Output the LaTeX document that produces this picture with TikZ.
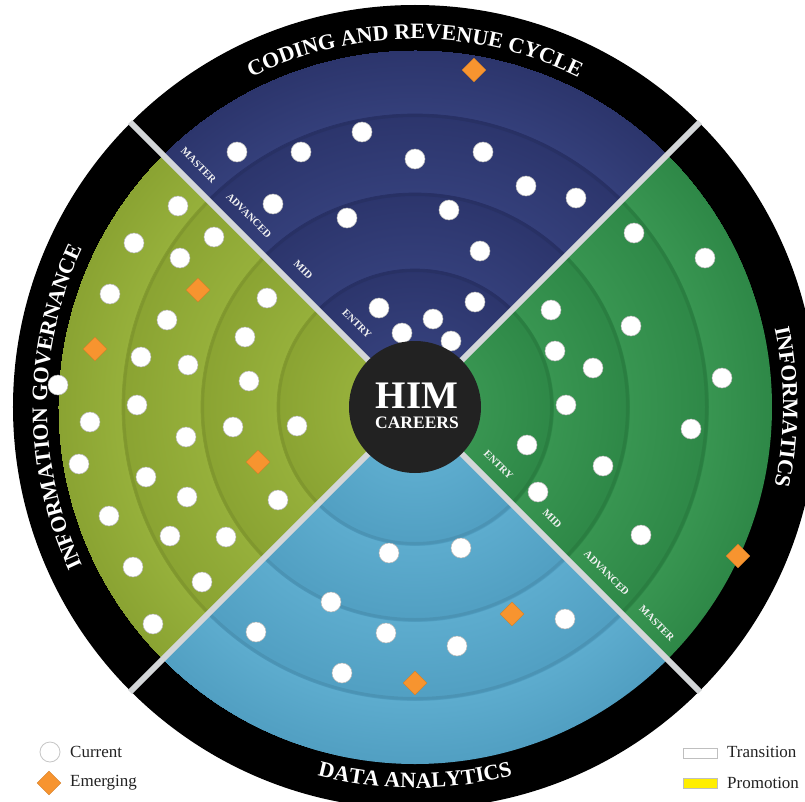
\documentclass[tikz,border=0pt]{standalone}
\usepackage{fontspec}
\setmainfont{Liberation Serif}
\usetikzlibrary{shapes.geometric,decorations.text,calc}

\definecolor{blueL}{HTML}{343F7A}
\definecolor{blueD}{HTML}{2C356C}
\definecolor{blueE}{HTML}{283065}
\definecolor{greenL}{HTML}{389551}
\definecolor{greenD}{HTML}{2E8847}
\definecolor{greenE}{HTML}{2A8042}
\definecolor{oliveL}{HTML}{96B03B}
\definecolor{oliveD}{HTML}{8AA332}
\definecolor{oliveE}{HTML}{839B2F}
\definecolor{cyanL}{HTML}{5DACCE}
\definecolor{cyanD}{HTML}{519FC2}
\definecolor{cyanE}{HTML}{4C96B8}
\definecolor{hub}{HTML}{222222}
\definecolor{divgray}{HTML}{D3D6D8}
\definecolor{emerg}{HTML}{F7942F}
\definecolor{promo}{HTML}{FFEE00}
\definecolor{legtext}{HTML}{222222}

\newcommand\mkringshade[3]{%
  \pgfdeclareradialshading{#1}{\pgfpoint{0pt}{0pt}}{color(0pt)=(#2); color(65pt)=(#2); color(138pt)=(#3); color(138.6pt)=(#2); color(214pt)=(#3); color(214.6pt)=(#2); color(293pt)=(#3); color(293.6pt)=(#2); color(357pt)=(#3)}}
\mkringshade{blueshade}{blueL}{blueD}
\mkringshade{greenshade}{greenL}{greenD}
\mkringshade{oliveshade}{oliveL}{oliveD}
\mkringshade{cyanshade}{cyanL}{cyanD}

\newcommand\hsector[3]{%
  \begin{scope}
    \clip (0,0) -- (#1:357) arc[start angle=#1, end angle={#1+90}, radius=357] -- cycle;
    \pgftext{\pgfuseshading{#2}}
    \foreach \r in {138,214,293} {
      \draw[black, opacity=0.07, line width=3pt] (0,0) circle[radius=\r-1.5];
      \draw[#3, line width=0.7pt] (0,0) circle[radius=\r];
    }
  \end{scope}}

\newcommand\ringfont{\fontsize{22}{22}\selectfont\bfseries}

\begin{document}
\begin{tikzpicture}[x=1pt,y=1pt,
  dot/.style={circle, fill=white, draw=gray!55, line width=0.5pt, minimum size=20pt, inner sep=0pt},
  emergdot/.style={diamond, fill=emerg, draw=emerg!85!black, line width=0.3pt, minimum width=24pt, minimum height=24pt, inner sep=0pt},
  lvl/.style={font=\fontsize{10.5}{11}\selectfont\bfseries, text=white!90!gray, rotate=-45, inner sep=0pt},
  divider/.style={draw=divgray, line width=6pt},
  legtxt/.style={font=\fontsize{17}{17}\selectfont, text=legtext, anchor=west, inner sep=0pt},
  ringtext/.style={decorate, decoration={text along path, text align=center, text color=white, text={|\ringfont|#1}}}]

\fill[white] (-415,-394) rectangle (390,407);
\useasboundingbox (-415,-394) rectangle (390,407);
\clip (-415,-394) rectangle (390,407);

% outer black ring
\fill[black] (0,0) circle[radius=402];

% sectors
\hsector{45}{blueshade}{blueE}
\hsector{135}{oliveshade}{oliveE}
\hsector{225}{cyanshade}{cyanE}
\hsector{-45}{greenshade}{greenE}

% dividers
\foreach \a in {45,135,225,315} \draw[divider] (\a:60) -- (\a:403);

% level labels
\foreach \t/\d in {ENTRY/100, MID/176, ADVANCED/253, MASTER/324} {
  \node[lvl] (tl-\t) at ($(135:\d)+(45:18)$) {\t};
  \node[lvl] (br-\t) at ($(-45:\d)+(45:18)$) {\t};
}

% ring titles
\path[ringtext={CODING AND REVENUE CYCLE}] (160:368) arc[start angle=160, end angle=20, radius=368];
\path[ringtext={INFORMATICS}] (40:368) arc[start angle=40, end angle=-40, radius=368];
\path[ringtext={INFORMATION GOVERNANCE}] (230:368) arc[start angle=230, end angle=130, radius=368];
\path[ringtext={DATA ANALYTICS}] (220:381) arc[start angle=220, end angle=320, radius=381];

% dots in pixel coordinates
\begin{scope}[shift={(-415pt,407pt)}, y=-1pt]
  % coding and revenue cycle
  \foreach \x/\y [count=\i] in {237/152, 301/152, 362/132, 415/159, 483/152, 526/186, 576/198, 273/204, 347/218, 449/210, 480/251, 379/308, 475/302, 433/319, 402/333, 451/341}
    \node[dot] (b\i) at (\x,\y) {};
  \node[emergdot] (be1) at (474,70) {};
  % informatics
  \foreach \x/\y [count=\i] in {634/233, 705/258, 551/310, 631/326, 555/351, 593/368, 722/378, 566/405, 691/429, 527/445, 603/466, 538/492, 641/535}
    \node[dot] (g\i) at (\x,\y) {};
  \node[emergdot] (ge1) at (738,556) {};
  % information governance
  \foreach \x/\y [count=\i] in {178/206, 134/243, 214/237, 180/258, 110/294, 267/298, 167/320, 245/337, 141/357, 188/365, 58/385, 249/381, 137/405, 90/422, 186/437, 233/427, 297/426, 79/464, 146/477, 187/497, 278/500, 109/516, 170/536, 226/537, 133/567, 202/582, 153/624}
    \node[dot] (o\i) at (\x,\y) {};
  \node[emergdot] (oe1) at (198,290) {};
  \node[emergdot] (oe2) at (95,349) {};
  \node[emergdot] (oe3) at (258,462) {};
  % data analytics
  \foreach \x/\y [count=\i] in {389/553, 461/548, 331/602, 565/619, 256/632, 386/633, 457/646, 342/673}
    \node[dot] (c\i) at (\x,\y) {};
  \node[emergdot] (ce1) at (512,614) {};
  \node[emergdot] (ce2) at (415,683) {};

  % legend
  \node[dot, draw=gray!45, line width=0.8pt] (legcur) at (50,752) {};
  \node[legtxt] (legcurt) at (70,752) {Current};
  \node[emergdot] (legem) at (49,783) {};
  \node[legtxt] (legemt) at (70,783) {Emerging};
  \node[draw=gray!50, line width=1pt, fill=white, minimum width=34pt, minimum height=10pt, inner sep=0pt] (legtr) at (700,753) {};
  \node[legtxt] (legtrt) at (727,752) {Transition};
  \node[draw=gray!50, line width=1pt, fill=promo, minimum width=34pt, minimum height=10pt, inner sep=0pt] (legpr) at (700,783) {};
  \node[legtxt] (legprt) at (727,783) {Promotion};
\end{scope}

% hub
\node[circle, fill=hub, minimum size=132pt, inner sep=0pt] (hubc) at (0,0) {};
\node[text=white, font=\fontsize{39}{39}\selectfont\bfseries, inner sep=0pt] (him) at (2,11) {HIM};
\node[text=white, font=\fontsize{17.5}{17.5}\selectfont\bfseries, inner sep=0pt] (careers) at (2,-16) {CAREERS};

\end{tikzpicture}
\end{document}
